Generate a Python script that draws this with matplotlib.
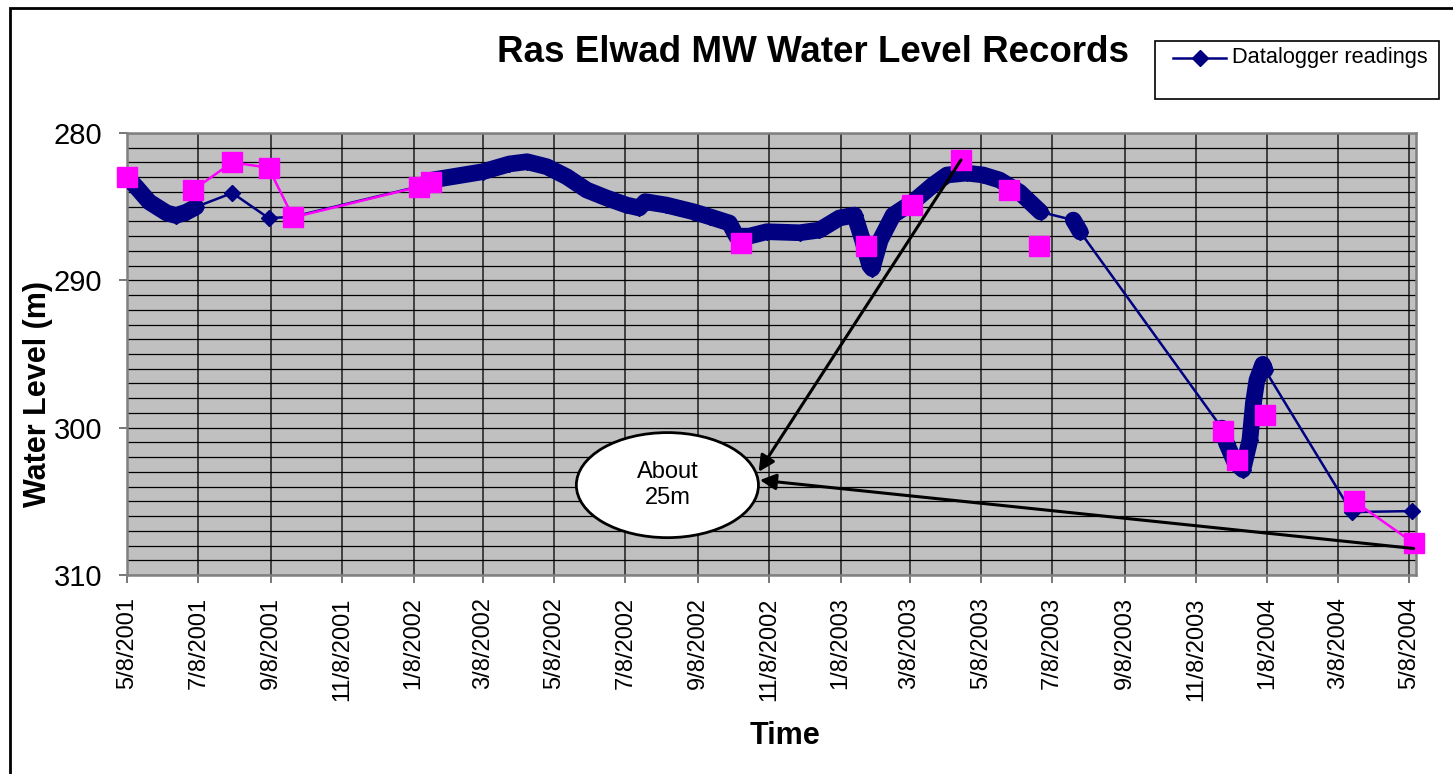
import numpy as np
import pandas as pd
import matplotlib
matplotlib.use("Agg")
import matplotlib.pyplot as plt
from matplotlib.patches import Ellipse, Rectangle
from matplotlib.lines import Line2D

plt.rcParams["font.family"] = ["Liberation Sans", "DejaVu Sans"]

NAVY = "#000080"
MAGENTA = "#FF00FF"
PLOT_BG = "#C0C0C0"

# ---------------------------------------------------------------------------
# Datalogger readings (continuous runs show up as a thick band of markers)
# ---------------------------------------------------------------------------
run1_dates = ["2001-05-08", "2001-05-16", "2001-05-27", "2001-06-11",
              "2001-06-19", "2001-06-28", "2001-07-06"]
run1_level = [283.0, 283.67, 284.68, 285.43, 285.6, 285.36, 285.02]

gap1_dates = ["2001-08-06", "2001-09-06", "2001-09-26", "2002-01-14"]
gap1_level = [284.07, 285.77, 285.70, 283.6]

run2_dates = ["2002-01-24", "2002-03-08", "2002-03-31", "2002-04-15",
              "2002-05-02", "2002-05-19", "2002-06-05", "2002-06-22",
              "2002-07-09", "2002-07-20", "2002-07-25", "2002-08-12",
              "2002-09-04", "2002-09-18", "2002-10-05", "2002-10-11",
              "2002-10-22", "2002-11-06", "2002-12-04", "2002-12-21",
              "2003-01-07", "2003-01-20", "2003-01-26", "2003-02-02",
              "2003-02-04", "2003-02-11", "2003-02-22", "2003-03-11",
              "2003-03-28", "2003-04-09", "2003-04-26", "2003-05-10",
              "2003-05-24", "2003-06-10", "2003-06-28"]
run2_level = [283.19, 282.63, 282.10, 281.95,
              282.29, 282.97, 283.87, 284.41,
              284.89, 285.09, 284.66, 284.89,
              285.34, 285.68, 286.11, 287.0,
              287.0, 286.70, 286.77, 286.59,
              285.77, 285.57, 287.06, 289.0,
              289.2, 287.26, 285.57, 284.68,
              283.53, 282.85, 282.72, 282.85,
              283.19, 284.01, 285.36]

run3_dates = ["2003-07-26", "2003-07-29", "2003-08-01"]
run3_level = [285.91, 286.31, 286.72]

run4_dates = ["2003-11-30", "2003-12-04", "2003-12-11", "2003-12-18",
              "2003-12-24", "2003-12-27", "2003-12-30", "2004-01-04",
              "2004-01-06"]
run4_level = [300.03, 301.05, 302.34, 302.85,
              300.84, 298.33, 296.77, 295.7,
              296.09]

gap2_dates = ["2004-03-20", "2004-05-11"]
gap2_level = [305.73, 305.66]

# ---------------------------------------------------------------------------
# Manual (dip meter) readings, group = readings joined by a line
# ---------------------------------------------------------------------------
manual_dates = ["2001-05-08", "2001-07-03", "2001-08-06", "2001-09-06",
                "2001-09-27", "2002-01-13", "2002-01-23", "2002-10-15",
                "2003-01-30", "2003-03-10", "2003-04-21", "2003-06-01",
                "2003-06-27", "2003-12-01", "2003-12-13", "2004-01-06",
                "2004-03-22", "2004-05-12"]
manual_level = [283.0, 283.9, 281.99, 282.36,
                285.73, 283.64, 283.3, 287.49,
                287.67, 284.91, 281.83, 283.87,
                287.67, 300.23, 302.2, 299.14,
                304.98, 307.83]
manual_group = [0, 1, 1, 1, 1, 1, 1, 2, 3, 4, 5, 6, 7, 8, 9, 10, 11, 11]

tick_labels = ["5/8/2001", "7/8/2001", "9/8/2001", "11/8/2001", "1/8/2002",
               "3/8/2002", "5/8/2002", "7/8/2002", "9/8/2002", "11/8/2002",
               "1/8/2003", "3/8/2003", "5/8/2003", "7/8/2003", "9/8/2003",
               "11/8/2003", "1/8/2004", "3/8/2004", "5/8/2004"]

# ---------------------------------------------------------------------------
W, H = 1453, 774
fig = plt.figure(figsize=(W / 100, H / 100), dpi=100)
fig.patch.set_facecolor("white")

ax = fig.add_axes([127 / W, 1 - 575 / H, (1416 - 127) / W, (575 - 133) / H])
ax.set_facecolor(PLOT_BG)

runs = [(run1_dates, run1_level), (gap1_dates, gap1_level),
        (run2_dates, run2_level), (run3_dates, run3_level),
        (run4_dates, run4_level), (gap2_dates, gap2_level)]
all_dates = pd.to_datetime(sum([r[0] for r in runs], []))
all_level = np.array(sum([r[1] for r in runs], []))

# thin connecting line + diamonds
ax.plot(all_dates, all_level, color=NAVY, lw=1.8, marker="D", ms=8,
        mec=NAVY, mfc=NAVY, zorder=3, clip_on=False)
# dense continuous records -> thick band
for d, lv in [(run1_dates, run1_level), (run2_dates, run2_level),
              (run3_dates, run3_level), (run4_dates, run4_level)]:
    ax.plot(pd.to_datetime(d), lv, color=NAVY, lw=12,
            solid_capstyle="round", solid_joinstyle="round", zorder=3)

m_dates = pd.to_datetime(manual_dates)
m_level = np.array(manual_level)
m_group = np.array(manual_group)
for g in np.unique(m_group):
    sel = m_group == g
    ax.plot(m_dates[sel], m_level[sel], color=MAGENTA, lw=1.8, marker="s",
            ms=14, mec=MAGENTA, mfc=MAGENTA, zorder=4, clip_on=False)

# axes
ax.set_xlim(pd.Timestamp("2001-05-08"), pd.Timestamp("2004-05-14"))
ax.set_ylim(310, 280)
tick_dates = pd.to_datetime(tick_labels, format="%m/%d/%Y")
ax.set_xticks(tick_dates)
ax.set_xticklabels(tick_labels, rotation=90, fontsize=17, va="top")
ax.set_yticks([280, 290, 300, 310])
ax.set_yticks(np.arange(280, 311, 1), minor=True)
ax.tick_params(axis="y", which="major", labelsize=21, length=6, width=1.2,
               color="#606060", pad=12)
ax.tick_params(axis="y", which="minor", length=0)
ax.tick_params(axis="x", which="major", length=6, width=1.2,
               color="#606060", pad=10)

ax.grid(axis="y", which="both", color="black", lw=0.9, zorder=1)
ax.grid(axis="x", which="major", color="#404040", lw=1.4, zorder=1)
ax.set_axisbelow(True)
for sp in ax.spines.values():
    sp.set_edgecolor("#808080")
    sp.set_linewidth(1.8)

# annotation: ellipse + arrows
ell = Ellipse((pd.Timestamp("2002-08-13"), 303.9), width=155.7, height=7.13,
              facecolor="white", edgecolor="black", lw=2, zorder=5)
ax.add_patch(ell)
ax.text(pd.Timestamp("2002-08-13"), 303.9, "About\n25m", fontsize=17,
        ha="center", va="center", linespacing=1.25, zorder=6)
arrow = dict(arrowstyle="-|>", color="black", lw=2.2, mutation_scale=24,
             shrinkA=0, shrinkB=0)
ax.annotate("", xy=(pd.Timestamp("2002-10-30"), 303.0),
            xytext=(pd.Timestamp("2003-04-21"), 281.83),
            arrowprops=arrow, zorder=7)
ax.annotate("", xy=(pd.Timestamp("2002-10-31"), 303.56),
            xytext=(pd.Timestamp("2004-05-12"), 308.2),
            arrowprops=arrow, zorder=7, annotation_clip=False)

# titles
fig.text(813 / W, 1 - 52 / H, "Ras Elwad MW Water Level Records",
         fontsize=26.5, fontweight="bold", ha="center", va="center")
fig.text(38 / W, 1 - 394 / H, "Water Level (m)", fontsize=22,
         fontweight="bold", rotation=90, ha="center", va="center")
fig.text(785 / W, 1 - 736 / H, "Time", fontsize=22, fontweight="bold",
         ha="center", va="center")

# legend box (drawn by hand, Excel style)
fig.patches.append(Rectangle((1155 / W, 1 - 99 / H), 284 / W, 58 / H,
                             transform=fig.transFigure, fill=False,
                             edgecolor="black", lw=1.2))
fig.lines.append(Line2D([1173 / W, 1226 / W], [1 - 58 / H, 1 - 58 / H],
                        transform=fig.transFigure, color=NAVY, lw=1.8))
fig.lines.append(Line2D([1199.5 / W], [1 - 58 / H], transform=fig.transFigure,
                        color=NAVY, marker="D", ms=8, lw=0))
fig.text(1232 / W, 1 - 58 / H, "Datalogger readings", fontsize=15.7,
         ha="left", va="center")

# outer chart border
fig.patches.append(Rectangle((10 / W, -0.1), 1.2, 1.1 - 8 / H,
                             transform=fig.transFigure, fill=False,
                             edgecolor="black", lw=2))

fig.savefig("out.png", dpi=100)
